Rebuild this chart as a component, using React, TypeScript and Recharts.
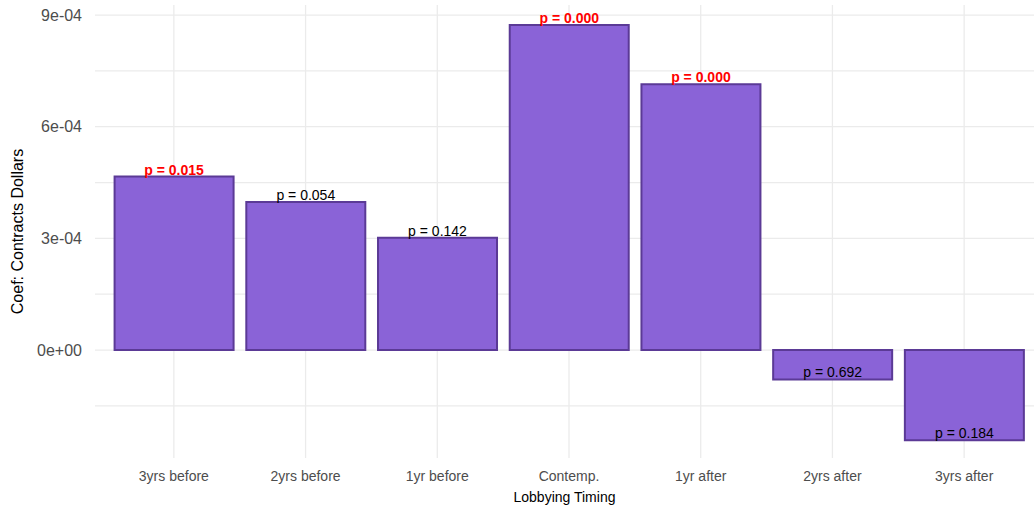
import { BarChart, Bar, XAxis, YAxis, CartesianGrid, LabelList } from 'recharts'

const categories = ['3yrs before', '2yrs before', '1yr before', 'Contemp.', '1yr after', '2yrs after', '3yrs after']
const coefs = [4.66e-4, 3.98e-4, 3.02e-4, 8.73e-4, 7.14e-4, -0.79e-4, -2.42e-4]
const pValues = [0.015, 0.054, 0.142, 0.0, 0.0, 0.692, 0.184]

const majorTicks = [0, 3e-4, 6e-4, 9e-4]
const minorTicks = [-1.5e-4, 1.5e-4, 4.5e-4, 7.5e-4]
const allTicks = [...minorTicks, ...majorTicks].sort((a, b) => a - b)
const yDomain = [-2.9e-4, 9.27e-4]

const data = categories.map((timing, i) => ({ timing, coef: coefs[i], p: pValues[i] }))

const FONT = '"Liberation Sans", Arial, Helvetica, sans-serif'

// R-style scientific labels: 3e-04, 0e+00; minor ticks get no label
const sci = (v: number) => {
  if (!majorTicks.includes(v)) return ''
  const [m, e] = v.toExponential(0).split('e')
  return `${m}e${e[0]}${e.slice(1).padStart(2, '0')}`
}

const PLabel = (props: any) => {
  const { x, y, width, height, index } = props
  const coef = coefs[index]
  const p = pValues[index]
  const end = coef >= 0 ? Math.min(y, y + height) : Math.max(y, y + height)
  const signif = p < 0.05
  return (
    <text
      x={x + width / 2}
      y={end - 2}
      textAnchor="middle"
      fontFamily={FONT}
      fontSize={14}
      fontWeight={signif ? 'bold' : 'normal'}
      fill={signif ? '#ff0000' : '#000000'}
    >
      {`p = ${p.toFixed(3)}`}
    </text>
  )
}

const YTitle = ({ viewBox }: any) => {
  const cx = 17
  const cy = viewBox.y + viewBox.height / 2
  return (
    <text x={cx} y={cy} transform={`rotate(-90, ${cx}, ${cy})`} textAnchor="middle" dominantBaseline="central"
      fontFamily={FONT} fontSize={16} fill="#000000">
      Coef: Contracts Dollars
    </text>
  )
}

const XTitle = ({ viewBox }: any) => (
  <text x={viewBox.x + viewBox.width / 2} y={viewBox.y + 44} textAnchor="middle"
    fontFamily={FONT} fontSize={14} fill="#000000">
    Lobbying Timing
  </text>
)

export default function App() {
  return (
    <div style={{ position: 'absolute', left: 0, top: 0, background: '#ffffff' }}>
      <BarChart
        width={1034}
        height={510}
        data={data}
        margin={{ top: 5, right: 0, left: 0, bottom: 0 }}
        barCategoryGap="5%"
      >
        <CartesianGrid syncWithTicks stroke="#ebebeb" strokeWidth={1.3} />
        <XAxis
          dataKey="timing"
          height={52}
          padding={{ left: 13, right: 4 }}
          axisLine={false}
          tickLine={false}
          tickSize={0}
          tickMargin={13}
          tick={{ fontSize: 14, fill: '#4d4d4d', fontFamily: FONT }}
          label={<XTitle />}
        />
        <YAxis
          width={95}
          domain={yDomain}
          ticks={allTicks}
          interval={0}
          tickFormatter={sci}
          axisLine={false}
          tickLine={false}
          tickSize={0}
          tickMargin={13}
          tick={{ fontSize: 16, fill: '#4d4d4d', fontFamily: FONT }}
          label={<YTitle />}
        />
        <Bar dataKey="coef" fill="#8a63d7" stroke="#5b3a96" strokeWidth={2} isAnimationActive={false}>
          <LabelList dataKey="p" content={<PLabel />} />
        </Bar>
      </BarChart>
    </div>
  )
}
